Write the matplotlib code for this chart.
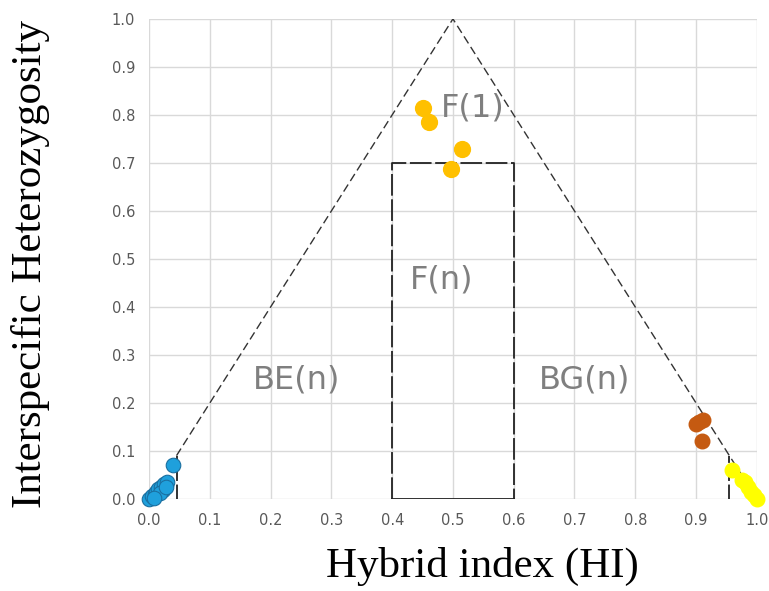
import numpy as np
import matplotlib.pyplot as plt

# hybrid index / heterozygosity estimates
blue_hi = [0.0, 0.005, 0.01, 0.012, 0.015, 0.02, 0.022, 0.025, 0.03, 0.018, 0.008, 0.028, 0.04]
blue_h = [0.0, 0.005, 0.01, 0.015, 0.02, 0.025, 0.018, 0.03, 0.035, 0.012, 0.002, 0.025, 0.07]
orange_hi = [0.90, 0.905, 0.912, 0.91]
orange_h = [0.155, 0.16, 0.165, 0.12]
gold_hi = [0.45, 0.46, 0.515, 0.497]
gold_h = [0.815, 0.785, 0.728, 0.688]
yellow_hi = [0.96, 0.975, 0.98, 0.985, 0.99, 0.995, 1.0]
yellow_h = [0.06, 0.04, 0.035, 0.025, 0.015, 0.008, 0.0]

region_labels = ["F(1)", "F(n)", "BE(n)", "BG(n)"]
region_x = [0.532, 0.482, 0.243, 0.717]
region_y = [0.815, 0.456, 0.248, 0.248]

fig = plt.figure(figsize=(7.69, 5.91), dpi=100)
ax = fig.add_axes([0.194, 0.156, 0.79, 0.812])

# triangle
ax.plot([0.045, 0.5, 1.0], [0.09, 1.0, 0.0], ls=(0, (6, 3)), color="#333333", lw=1)
# F(n) box
ax.plot([0.4, 0.4, 0.6, 0.6], [0.0, 0.7, 0.7, 0.0], ls=(0, (12, 2)), color="#222222", lw=1.3)
ax.plot([0.4, 0.6], [0.0, 0.0], color="#222222", lw=1.3)
# parental limits
ax.plot([0.045, 0.045], [0.0, 0.09], ls=(0, (8, 2)), color="#222222", lw=1.3)
ax.plot([0.955, 0.955], [0.0, 0.09], ls=(0, (8, 2)), color="#222222", lw=1.3)

ax.scatter(blue_hi, blue_h, s=110, color="#1FA0DC", edgecolors="#1A6FA0", linewidths=0.8, zorder=3, clip_on=False)
ax.scatter(orange_hi, orange_h, s=110, color="#C55A11", zorder=3, clip_on=False)
ax.scatter(gold_hi, gold_h, s=130, color="#FFC000", zorder=3, clip_on=False)
ax.scatter(yellow_hi, yellow_h, s=110, color="#FFFF00", zorder=3, clip_on=False)

for lab, x, y in zip(region_labels, region_x, region_y):
    ax.text(x, y, lab, fontsize=23, color="#7F7F7F", ha="center", va="center")

ax.set_xlim(0, 1)
ax.set_ylim(0, 1)
ax.set_xticks(np.arange(0, 1.01, 0.1))
ax.set_yticks(np.arange(0, 1.01, 0.1))
ax.set_xticklabels([f"{v:.1f}" for v in np.arange(0, 1.01, 0.1)])
ax.set_yticklabels([f"{v:.1f}" for v in np.arange(0, 1.01, 0.1)])
ax.tick_params(length=0, labelsize=10.5, labelcolor="#595959", pad=10)
ax.grid(True, color="#D9D9D9", lw=1)
ax.set_axisbelow(True)
for s in ax.spines.values():
    s.set_visible(False)

ax.set_xlabel("Hybrid index (HI)", fontsize=31, family="Liberation Serif")
ax.set_ylabel("Interspecific Heterozygosity", fontsize=31, family="Liberation Serif")
ax.xaxis.set_label_coords(0.548, -0.10)
ax.yaxis.set_label_coords(-0.163, 0.49)

fig.savefig("out.png", dpi=100)
